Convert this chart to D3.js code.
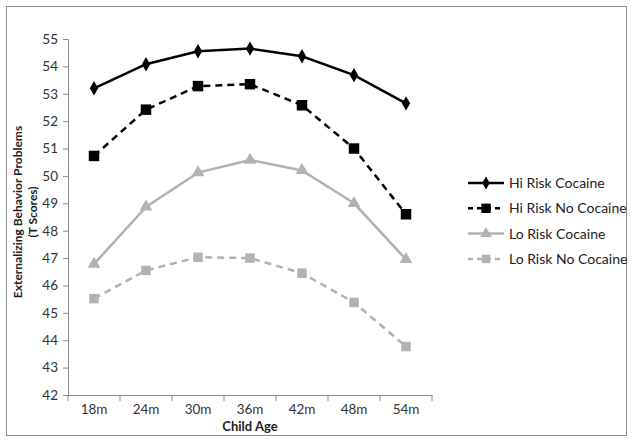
<!DOCTYPE html>
<html>
<head>
<meta charset="utf-8">
<script src="https://cdn.jsdelivr.net/npm/d3@7"></script>
<style>
  body { margin: 0; background: #fff; }
  svg text { font-family: Lato, "Open Sans", sans-serif; }
</style>
</head>
<body>
<svg width="635" height="442"></svg>
<script>
var ages = ["18m", "24m", "30m", "36m", "42m", "48m", "54m"];
var hiCocaine = [53.2, 54.08, 54.55, 54.65, 54.37, 53.68, 52.65];
var hiNoCocaine = [50.73, 52.42, 53.28, 53.35, 52.58, 51.0, 48.6];
var loCocaine = [46.78, 48.87, 50.12, 50.58, 50.2, 49.0, 46.95];
var loNoCocaine = [45.52, 46.55, 47.03, 47.0, 46.45, 45.38, 43.77];
var yTicks = d3.range(42, 56);

var series = [
  { name: "Hi Risk Cocaine", values: hiCocaine, color: "#000", dash: null, symbol: d3.symbolDiamond, size: 60 },
  { name: "Hi Risk No Cocaine", values: hiNoCocaine, color: "#000", dash: "7,5", symbol: d3.symbolSquare, size: 110 },
  { name: "Lo Risk Cocaine", values: loCocaine, color: "#b2b2b2", dash: null, symbol: d3.symbolTriangle, size: 70 },
  { name: "Lo Risk No Cocaine", values: loNoCocaine, color: "#b2b2b2", dash: "7,5", symbol: d3.symbolSquare, size: 90 }
];

var svg = d3.select("svg");

// outer frame
svg.append("rect")
    .attr("x", 6.5).attr("y", 6.5)
    .attr("width", 620).attr("height", 429)
    .attr("fill", "none")
    .attr("stroke", "#8c8c8c");

var x = d3.scaleBand().domain(ages).range([68, 432]);
var y = d3.scaleLinear().domain([42, 55]).range([395, 39]);

var yAxis = svg.append("g")
    .attr("transform", "translate(68,0)")
    .call(d3.axisLeft(y).tickValues(yTicks).tickSize(5).tickPadding(5).tickFormat(d3.format("d")));

var xAxis = svg.append("g")
    .attr("transform", "translate(0,395)")
    .call(d3.axisBottom(x).tickSize(0).tickPadding(9));

// band boundary ticks like Excel
xAxis.selectAll(".sep")
    .data(ages.concat([null]))
    .enter().append("line")
    .attr("x1", function(d, i) { return i < ages.length ? x(d) : x.range()[1]; })
    .attr("x2", function(d, i) { return i < ages.length ? x(d) : x.range()[1]; })
    .attr("y1", 0).attr("y2", 6)
    .attr("stroke", "#8c8c8c");

svg.selectAll(".domain").attr("stroke", "#8c8c8c");
svg.selectAll(".tick line").attr("stroke", "#8c8c8c");
svg.selectAll(".tick text")
    .attr("fill", "#333")
    .style("font-size", "13.5px");

var line = d3.line()
    .x(function(d, i) { return x(ages[i]) + x.bandwidth() / 2; })
    .y(function(d) { return y(d); });

var g = svg.append("g");
series.slice().reverse().forEach(function(s) {
  g.append("path")
      .attr("d", line(s.values))
      .attr("fill", "none")
      .attr("stroke", s.color)
      .attr("stroke-width", 2.5)
      .attr("stroke-dasharray", s.dash);
  g.selectAll(null)
      .data(s.values)
      .enter().append("path")
      .attr("transform", function(d, i) {
        return "translate(" + (x(ages[i]) + x.bandwidth() / 2) + "," + y(d) + ")";
      })
      .attr("d", d3.symbol().type(s.symbol).size(s.size))
      .attr("fill", s.color);
});

// axis titles
svg.append("text")
    .attr("x", 250).attr("y", 431)
    .attr("text-anchor", "middle")
    .style("font-size", "13px").style("font-weight", "bold")
    .attr("fill", "#222")
    .text("Child Age");

var yt = svg.append("text")
    .attr("transform", "translate(22,212) rotate(-90)")
    .attr("text-anchor", "middle")
    .style("font-size", "12px").style("font-weight", "bold")
    .attr("fill", "#222");
yt.append("tspan").attr("x", 0).attr("dy", 0).text("Externalizing Behavior Problems");
yt.append("tspan").attr("x", 0).attr("dy", 15).text("(T Scores)");

// legend
var legend = svg.append("g")
    .selectAll("g")
    .data(series)
    .enter().append("g")
    .attr("transform", function(d, i) { return "translate(468," + (183 + i * 25.3) + ")"; });

legend.append("line")
    .attr("x1", 0).attr("x2", 36)
    .attr("stroke", function(d) { return d.color; })
    .attr("stroke-width", 2.5)
    .attr("stroke-dasharray", function(d) { return d.dash ? "5,4" : null; });
legend.append("path")
    .attr("transform", "translate(18,0)")
    .attr("d", function(d) { return d3.symbol().type(d.symbol).size(d.size * 0.8)(); })
    .attr("fill", function(d) { return d.color; });
legend.append("text")
    .attr("x", 41).attr("dy", "0.35em")
    .style("font-size", "14px")
    .attr("fill", "#222")
    .text(function(d) { return d.name; });
</script>
</body>
</html>
